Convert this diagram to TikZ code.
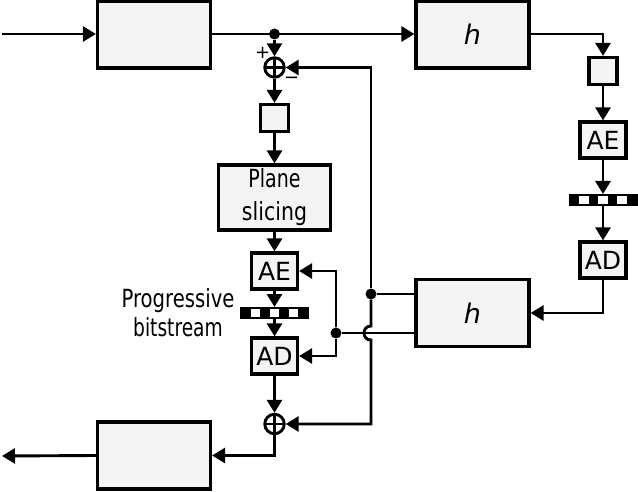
\documentclass[tikz,border=0pt]{standalone}
\usepackage{graphicx}
\usepackage{fontspec}
\setmainfont{DejaVu Sans}
\usetikzlibrary{arrows.meta,calc}
\definecolor{boxgray}{HTML}{F4F4F4}
\newcommand{\sqz}[2]{\scalebox{#1}[1]{#2}}
\begin{document}
\begin{tikzpicture}[x=1pt,y=-1pt,
  every node/.style={font=\fontsize{25}{33}\selectfont},
  conn/.style={line width=2.9pt},
  arr/.style={conn,-{Triangle[length=13pt,width=15pt]}},
  blk/.style={draw=black,line width=3.2pt,fill=boxgray,inner sep=0pt,minimum width=113pt,minimum height=67pt},
  sq/.style={draw=black,line width=3.2pt,fill=boxgray,inner sep=0pt,minimum width=28pt,minimum height=27pt},
  codec/.style={draw=black,line width=3.2pt,fill=boxgray,inner sep=0pt,minimum width=46pt,minimum height=36pt},
  slicer/.style={draw=black,line width=3.2pt,fill=boxgray,inner sep=0pt,minimum width=112pt,minimum height=65pt,align=center},
  sumnode/.style={circle,draw=black,line width=2.9pt,minimum size=19.5pt,inner sep=0pt,
    path picture={\draw[line width=2.9pt] (path picture bounding box.north) -- (path picture bounding box.south)
      (path picture bounding box.west) -- (path picture bounding box.east);}},
  barnode/.style={draw=black,line width=2pt,fill=white,minimum width=67pt,minimum height=10pt,inner sep=0pt,
    path picture={\foreach \i in {0,2,4,6}{
      \fill[black] ($(path picture bounding box.south west)!\i/7!(path picture bounding box.south east)$)
        rectangle ($(path picture bounding box.north west)!{(\i+1)/7}!(path picture bounding box.north east)$);}}},
  dotn/.style={circle,fill=black,inner sep=0pt,minimum size=11pt},
  sgn/.style={font=\fontsize{18}{18}\selectfont,inner sep=0pt}
]
\useasboundingbox (0,0) rectangle (638,492);

% main blocks
\node[blk] (enc) at (154,34.5) {};
\node[blk] (ht) at (472.5,34.5) {\fontsize{27}{27}\selectfont\itshape h};
\node[blk] (hb) at (472.5,313) {\fontsize{27}{27}\selectfont\itshape h};
\node[blk] (dec) at (154,455.5) {};

% left chain
\node[dotn] (jtop) at (274.5,34) {};
\node[sumnode] (sum1) at (274.5,67.5) {};
\node[sq] (q1) at (274.5,118) {};
\node[slicer] (ps) at (274.5,197.5) {\sqz{0.76}{Plane}\\\sqz{0.82}{slicing}};
\node[codec] (ae1) at (274.5,271) {AE};
\node[barnode] (bs1) at (274.5,313) {};
\node[codec] (ad1) at (274.5,356) {AD};
\node[sumnode] (sum2) at (274.5,424) {};
\node[sgn] (plus) at (262.7,52.5) {+};
\node[sgn] (minus) at (291.7,80) {−};
\node[align=center,font=\fontsize{25}{29}\selectfont] (lbl) at (178,313) {\sqz{0.785}{Progressive}\\\sqz{0.745}{bitstream}};

% right chain
\node[sq] (q2) at (603,71) {};
\node[codec] (ae2) at (603,140) {AE};
\node[barnode] (bs2) at (603,200) {};
\node[codec] (ad2) at (603,260) {AD};

% junctions
\node[dotn] (j1) at (371,294) {};
\node[dotn] (j2) at (336,333) {};
\coordinate (inL) at (2,34);
\coordinate (outL) at (2,456);

% connectors
\draw[arr] (inL) -- (enc.west |- inL);
\draw[arr] (enc.east |- jtop) -- (ht.west |- jtop);
\draw[arr] (jtop) -- (sum1.north);
\draw[arr] (sum1.south) -- (q1.north);
\draw[arr] (q1.south) -- (ps.north);
\draw[arr] (ps.south) -- (ae1.north);
\draw[arr] (ae1.south) -- (bs1.north);
\draw[arr] (bs1.south) -- (ad1.north);
\draw[arr] (ad1.south) -- (sum2.north);
\draw[arr] (sum2.south) |- (dec.east);
\draw[arr] (dec.west) -- (outL);

\draw[arr] (ht.east |- jtop) -| (q2.north);
\draw[arr] (q2.south) -- (ae2.north);
\draw[arr] (ae2.south) -- (bs2.north);
\draw[arr] (bs2.south) -- (ad2.north);
\draw[arr] (ad2.south) |- (hb.east);

\draw[conn] (j1 -| hb.west) -- (j1);
\draw[conn] (j2 -| hb.west) -- (j2);
\draw[arr] (j1) |- (sum1.east);
\draw[arr] (j1) -- ($(j1 |- j2)+(0,-7)$)
  .. controls ($(j1 |- j2)+(-9.3,-7)$) and ($(j1 |- j2)+(-9.3,7)$) .. ($(j1 |- j2)+(0,7)$)
  |- (sum2.east);
\draw[arr] (j2) |- (ae1.east);
\draw[arr] (j2) |- (ad1.east);
\end{tikzpicture}
\end{document}
